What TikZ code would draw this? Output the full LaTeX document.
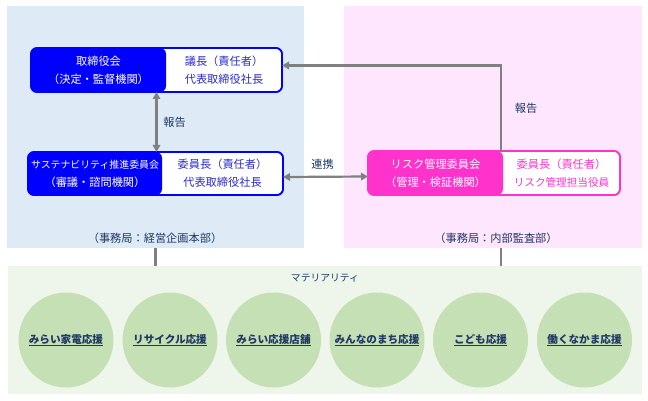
\documentclass[tikz,border=0pt]{standalone}
\usepackage{fontspec}
\usetikzlibrary{arrows.meta,calc}
\newfontfamily\jp{Noto Sans CJK JP}
\definecolor{panelblue}{HTML}{DEEBF7}
\definecolor{panelpink}{HTML}{FFE6FF}
\definecolor{panelgreen}{HTML}{EEF5EA}
\definecolor{circgreen}{HTML}{C5E0B4}
\definecolor{boxblue}{HTML}{0000FF}
\definecolor{boxpink}{HTML}{FF33CC}
\definecolor{txtblue}{HTML}{2B2BCC}
\definecolor{navy}{HTML}{1F3864}
\definecolor{arrgray}{HTML}{808080}
\newcommand\ulx[1]{\setbox0=\hbox{#1}\rlap{\rule[-2.6pt]{\wd0}{1.3pt}}\box0}
\begin{document}
\begin{tikzpicture}[x=1pt,y=-1pt,
  every node/.style={font=\jp\fontsize{11.2}{17.8}\selectfont, inner sep=0pt, outer sep=0pt},
  panel/.style={rectangle, draw=none, anchor=center},
  govbox/.style={rectangle, rounded corners=6pt, line width=1.6pt, fill=white, minimum height=44pt},
  lbl/.style={text=navy, align=center},
  garrow/.style={draw=arrgray, line width=2.2pt, {Triangle[length=7pt,width=7.5pt]}-{Triangle[length=7pt,width=7.5pt]}},
  sarrow/.style={draw=arrgray, line width=2.2pt, -{Triangle[length=7pt,width=7.5pt]}},
  gline/.style={draw=arrgray, line width=2.2pt},
  circ/.style={circle, fill=circgreen, minimum size=95pt, text=navy, font=\jp\bfseries\fontsize{10.6}{12}\selectfont}
]
\useasboundingbox (0,0) rectangle (648,401);
\fill[white] (0,0) rectangle (648,401);

% panels
\node[panel, fill=panelblue, minimum width=297pt, minimum height=242pt] (pL) at (155.5,127) {};
\node[panel, fill=panelpink, minimum width=298pt, minimum height=242pt] (pR) at (493,127) {};
\node[panel, fill=panelgreen, minimum width=634pt, minimum height=128pt] (pM) at (325,330) {};

% box 1
\node[govbox, draw=boxblue, minimum width=251pt] (b1) at (156.5,70) {};
\fill[boxblue, rounded corners=6pt] (b1.south west) rectangle ($(b1.north west)+(135,0)$);
\draw[boxblue, line width=1.6pt, rounded corners=6pt] (b1.south west) rectangle (b1.north east);
\node[text=white, align=center] (b1l) at (98.5,70) {取締役会\\（決定・監督機関）};
\node[text=txtblue, align=center] (b1r) at (224,70) {議長（責任者）\\代表取締役社長};

% box 2
\node[govbox, draw=boxblue, minimum width=255pt, minimum height=43pt] (b2) at (155.5,173.5) {};
\fill[boxblue, rounded corners=6pt] (b2.south west) rectangle ($(b2.north west)+(134,0)$);
\draw[boxblue, line width=1.6pt, rounded corners=6pt] (b2.south west) rectangle (b2.north east);
\node[text=white, align=center] (b2l) at (95,173.5) {{\fontsize{9.9}{17.8}\selectfont サステナビリティ推進委員会}\\（審議・諮問機関）};
\node[text=txtblue, align=center] (b2r) at (222.5,173.5) {委員長（責任者）\\代表取締役社長};

% box 3
\node[govbox, draw=boxpink, minimum width=252pt] (b3) at (494,173) {};
\fill[boxpink, rounded corners=6pt] (b3.south west) rectangle ($(b3.north west)+(135,0)$);
\draw[boxpink, line width=1.6pt, rounded corners=6pt] (b3.south west) rectangle (b3.north east);
\node[text=white, align=center] (b3l) at (435.5,173) {リスク管理委員会\\（管理・検証機関）};
\node[text=boxpink, align=center] (b3r) at (561.5,173) {委員長（責任者）\\{\fontsize{10.6}{17.8}\selectfont リスク管理担当役員}};

% arrows
\draw[garrow] (b1.south) -- (b1.south |- b2.north);
\draw[garrow] ([yshift=-3.5pt]b2.east) -- ([yshift=-3.5pt]b3.west);
\draw[sarrow] ([xshift=7pt]b3.north) |- ([yshift=4.5pt]b1.east);

\node[lbl] (r1) at (174.5,122) {報告};
\node[lbl] (r2) at (322.5,164) {連携};
\node[lbl] (r3) at (526,108) {報告};

% secretariats
\node[lbl] (s1) at (155,238.5) {（事務局：経営企画本部）};
\node[lbl] (s2) at (496,238.5) {（事務局：内部監査部）};

% lines to materiality
\draw[gline] (pL.south) -- (pL.south |- pM.north);
\draw[gline] ([xshift=8pt]pR.south) -- ([xshift=8pt]pR.south |- pM.north);

\node[lbl, font=\jp\fontsize{9.8}{12}\selectfont] (mt) at (325,278) {マテリアリティ};

% circles
\node[circ] (c1) at (66,340) {\ulx{みらい家電応援}};
\node[circ] (c2) at (170,340) {\ulx{リサイクル応援}};
\node[circ] (c3) at (273.5,340) {\ulx{みらい応援店舗}};
\node[circ] (c4) at (377,340) {\ulx{みんなのまち応援}};
\node[circ] (c5) at (480.5,340) {\ulx{こども応援}};
\node[circ] (c6) at (584.5,340) {\ulx{働くなかま応援}};
\end{tikzpicture}
\end{document}
